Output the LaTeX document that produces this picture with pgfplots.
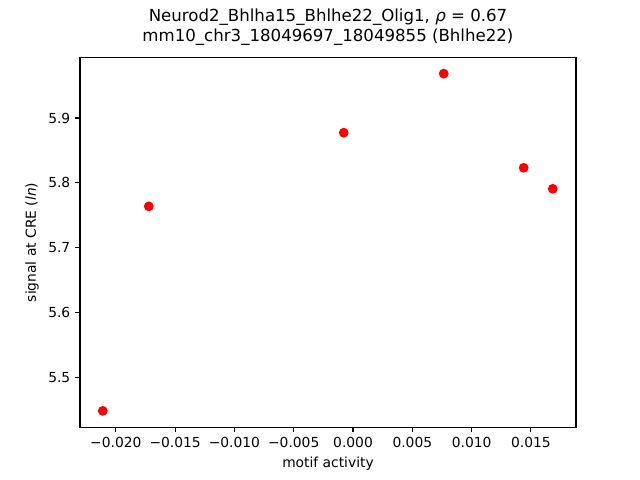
\documentclass[border=0pt]{standalone}
\usepackage{fontspec}
\setmainfont{DejaVu Sans}
\usepackage{pgfplots}
\pgfplotsset{compat=1.18}
\begin{document}
\begin{tikzpicture}
\useasboundingbox (0,0) rectangle (6.4in,4.8in);
\begin{axis}[
  at={(0.8in,0.528in)}, anchor=south west,
  scale only axis, width=4.96in, height=3.696in,
  xmin=-0.02302, xmax=0.0188, ymin=5.4232, ymax=5.9931,
  xtick={-0.020,-0.015,-0.010,-0.005,0,0.005,0.010,0.015},
  ytick={5.5,5.6,5.7,5.8,5.9},
  tick align=outside, tick pos=left,
  major tick length=3.5pt,
  tick style={black, line width=0.8pt},
  axis line style={line width=0.8pt},
  every tick label/.append style={font=\fontsize{10}{12}\selectfont},
  /pgf/number format/assume math mode=true,
  xticklabel style={/pgf/number format/.cd, fixed, fixed zerofill, precision=3},
  yticklabel style={/pgf/number format/.cd, fixed, fixed zerofill, precision=1},
  scaled x ticks=false,
  xticklabel={\ifdim\tick pt<0pt \textminus\pgfmathparse{abs(\tick)}\pgfmathprintnumber{\pgfmathresult}\else\pgfmathprintnumber{\tick}\fi},
  xlabel={motif activity},
  ylabel={signal at CRE (\textit{ln})},
  label style={font=\fontsize{10}{12}\selectfont},
  title style={font=\fontsize{12}{14.5}\selectfont, align=center, yshift=-1pt},
  title={Neurod2\_Bhlha15\_Bhlhe22\_Olig1, \textit{ρ} = 0.67\\mm10\_chr3\_18049697\_18049855 (Bhlhe22)},
]
\addplot[only marks, mark=*, mark size=3pt, color=red, mark options={fill=red, draw=red, line width=1pt}] coordinates {
(-0.02110, 5.4484)
(-0.01722, 5.7638)
(-0.00078, 5.8773)
(0.00765, 5.9684)
(0.01439, 5.8232)
(0.01684, 5.7908)
};
\end{axis}
\end{tikzpicture}
\end{document}
